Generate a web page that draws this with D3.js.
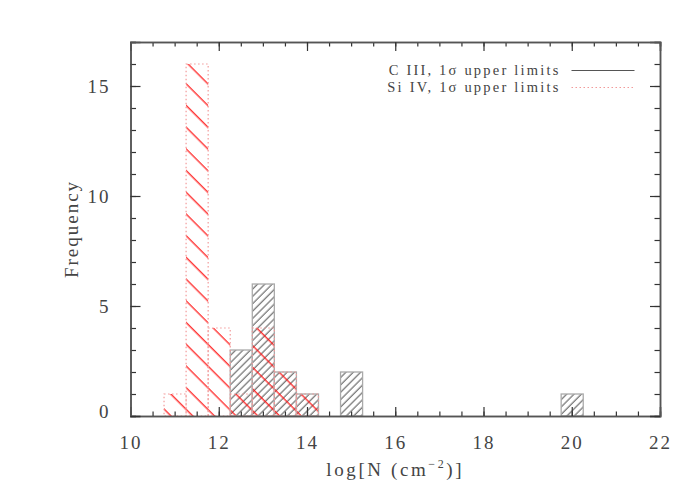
<!DOCTYPE html>
<meta charset="utf-8">
<style>
body { margin: 0; background: #fff; }
text { font-family: "Liberation Serif", "DejaVu Serif", serif; fill: #444; }
</style>
<body>
<script src="https://d3js.org/d3.v7.min.js"></script>
<script>

// histogram bins: lower edges (log N) and counts
var binWidth = 0.5;
var si4Edges = [10.76, 11.26, 11.76, 12.26, 12.76, 13.26, 13.76];
var si4Counts = [1, 16, 4, 1, 4, 2, 1];
var c3Edges = [12.26, 12.76, 13.26, 13.76, 14.76, 19.76];
var c3Counts = [3, 6, 2, 1, 2, 1];

var xMajor = [10, 12, 14, 16, 18, 20, 22];
var yMajor = [0, 5, 10, 15];
var legendLabels = ["C III, 1\u03c3 upper limits", "Si IV, 1\u03c3 upper limits"];

var margin = {top: 42, right: 40, bottom: 84, left: 130.5},
    width = 700 - margin.left - margin.right,
    height = 500 - margin.top - margin.bottom;

var x = d3.scaleLinear().domain([10, 22]).range([0, width]);
var y = d3.scaleLinear().domain([0, 17]).range([height, 0]);

var svg = d3.select("body").append("svg")
    .attr("width", 700)
    .attr("height", 500);

// hatch patterns
var defs = svg.append("defs");
defs.append("pattern")
    .attr("id", "hatch-black")
    .attr("patternUnits", "userSpaceOnUse")
    .attr("width", 5.2).attr("height", 20)
    .attr("patternTransform", "rotate(45)")
  .append("line")
    .attr("x1", 1).attr("y1", 0).attr("x2", 1).attr("y2", 20)
    .attr("stroke", "#222").attr("stroke-width", 0.85);
defs.append("pattern")
    .attr("id", "hatch-red")
    .attr("patternUnits", "userSpaceOnUse")
    .attr("width", 15.35).attr("height", 40)
    .attr("patternTransform", "rotate(-45)")
  .append("line")
    .attr("x1", 9.8).attr("y1", 0).attr("x2", 9.8).attr("y2", 40)
    .attr("stroke", "#ff1010").attr("stroke-width", 1.2);

var g = svg.append("g")
    .attr("transform", "translate(" + margin.left + "," + margin.top + ")");

var c3 = c3Edges.map(function(e, i) { return {lo: e, n: c3Counts[i]}; });
var si4 = si4Edges.map(function(e, i) { return {lo: e, n: si4Counts[i]}; });

function bars(data, cls) {
  return g.selectAll("rect." + cls)
    .data(data)
   .enter().append("rect")
    .attr("class", cls)
    .attr("x", function(d) { return x(d.lo); })
    .attr("width", function(d) { return x(d.lo + binWidth) - x(d.lo); })
    .attr("y", function(d) { return y(d.n); })
    .attr("height", function(d) { return y(0) - y(d.n); });
}

// fills
bars(c3, "c3fill").style("fill", "url(#hatch-black)");
bars(si4, "si4fill").style("fill", "url(#hatch-red)");
// outlines
bars(c3, "c3line").style("fill", "none")
    .style("stroke", "#aaa").style("stroke-width", 1.3);
bars(si4, "si4line").style("fill", "none")
    .style("stroke", "#f29a9a").style("stroke-width", 1.2)
    .style("stroke-dasharray", "1.5,2.5");

// axes (ticks inward, on all four sides)
var xMinor = d3.range(10, 22.01, 0.5);
var yMinor = d3.range(0, 17.01, 1);

function styleAxis(sel) {
  sel.select(".domain").attr("stroke", "#555").attr("stroke-width", 1.5);
  sel.selectAll(".tick line").attr("stroke", "#333").attr("stroke-width", 1.2);
}

g.append("g").attr("transform", "translate(0," + height + ")")
    .call(d3.axisBottom(x).tickValues(xMinor).tickSize(-4.5).tickFormat(""))
    .call(styleAxis);
g.append("g").attr("transform", "translate(0," + height + ")")
    .call(d3.axisBottom(x).tickValues(xMajor).tickSize(-9).tickPadding(20)
      .tickFormat(d3.format("d")))
    .call(styleAxis)
    .selectAll("text").style("font-size", "19px").style("letter-spacing", "2px")
      .style("font-family", "'Liberation Serif', serif").attr("fill", "#444");
g.append("g")
    .call(d3.axisTop(x).tickValues(xMinor).tickSize(-4.5).tickFormat(""))
    .call(styleAxis);
g.append("g")
    .call(d3.axisTop(x).tickValues(xMajor).tickSize(-9).tickFormat(""))
    .call(styleAxis);

g.append("g")
    .call(d3.axisLeft(y).tickValues(yMinor).tickSize(-5.5).tickFormat(""))
    .call(styleAxis);
g.append("g")
    .call(d3.axisLeft(y).tickValues(yMajor).tickSize(-10).tickPadding(20)
      .tickFormat(d3.format("d")))
    .call(styleAxis)
    .selectAll("text").style("font-size", "19px").style("letter-spacing", "2px")
      .style("font-family", "'Liberation Serif', serif").attr("fill", "#444")
      .attr("dy", function(d) { return d === 0 ? "0.1em" : "0.32em"; });

g.append("g").attr("transform", "translate(" + width + ",0)")
    .call(d3.axisRight(y).tickValues(yMinor).tickSize(-5.5).tickFormat(""))
    .call(styleAxis);
g.append("g").attr("transform", "translate(" + width + ",0)")
    .call(d3.axisRight(y).tickValues(yMajor).tickSize(-10).tickFormat(""))
    .call(styleAxis);

// axis titles
var xt = svg.append("text")
    .attr("x", margin.left + x(16))
    .attr("y", 476)
    .attr("text-anchor", "middle")
    .style("font-size", "19px")
    .style("letter-spacing", "2.6px");
xt.append("tspan").text("log[N (cm");
xt.append("tspan").attr("dy", -8).style("font-size", "12px").text("\u22122");
xt.append("tspan").attr("dy", 8).text(")]");

svg.append("text")
    .attr("transform", "translate(78," + (margin.top + y(8.5)) + ") rotate(-90)")
    .attr("text-anchor", "middle")
    .style("font-size", "19px")
    .style("letter-spacing", "2px")
    .text("Frequency");

// legend
var legend = g.append("g");
legendLabels.forEach(function(lab, i) {
  var ly = 28.5 + i * 17;
  legend.append("text")
      .attr("x", 430)
      .attr("y", ly + 4.5)
      .attr("text-anchor", "end")
      .style("font-size", "14.5px")
      .style("letter-spacing", "2.2px")
      .text(lab);
  legend.append("line")
      .attr("x1", 441).attr("x2", 504)
      .attr("y1", ly).attr("y2", ly)
      .attr("stroke", i === 0 ? "#555" : "#f29a9a")
      .attr("stroke-width", 1.2)
      .attr("stroke-dasharray", i === 0 ? null : "1.5,2.5");
});

</script>
</body>
